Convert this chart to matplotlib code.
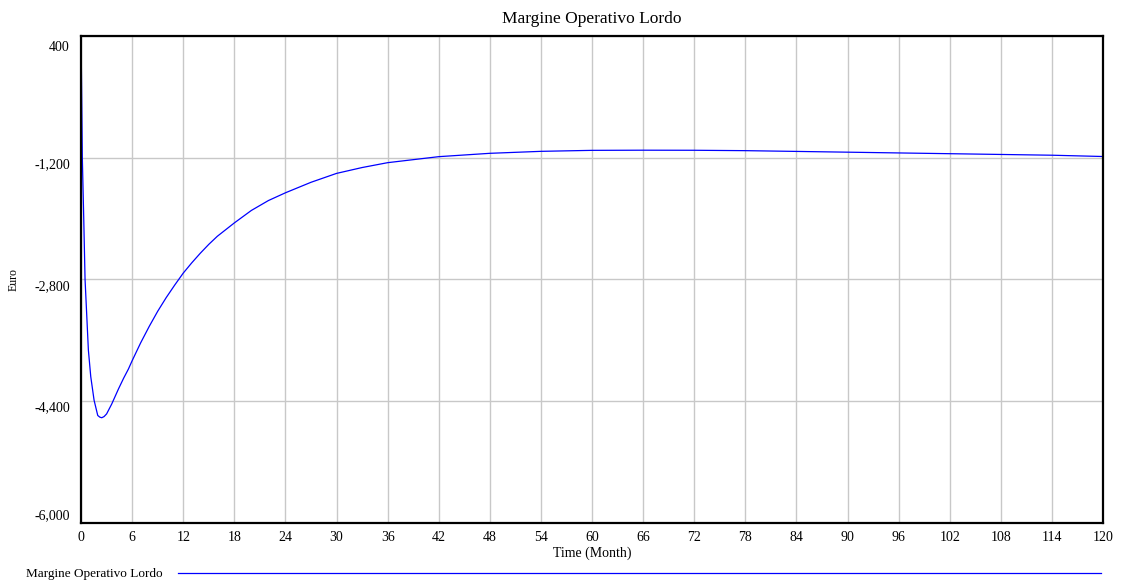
import matplotlib
matplotlib.use("Agg")
import matplotlib.pyplot as plt
import matplotlib.transforms as mtransforms

plt.rcParams['font.family'] = ['Liberation Serif', 'DejaVu Serif']

# data
months = [0, 0.15, 0.31, 0.47, 0.86, 1.14, 1.53, 1.96, 2.2, 2.43, 2.7, 3.0, 3.6,
          4.4, 5.0, 5.56, 6, 7, 8, 9, 10, 11, 12, 13, 14, 15, 16, 18, 20, 22,
          24, 27, 30, 33, 36, 42, 48, 54, 60, 66, 72, 78, 84, 90, 96, 102, 108,
          114, 120]
margine = [400, -1200, -1970, -2800, -3730, -4080, -4390, -4590, -4612, -4620,
           -4605, -4570, -4440, -4240, -4100, -3980, -3870, -3635, -3420, -3220,
           -3040, -2875, -2718, -2583, -2457, -2340, -2234, -2058, -1894, -1764,
           -1662, -1524, -1407, -1330, -1266, -1187, -1143, -1117, -1104, -1102,
           -1103, -1108, -1118, -1128, -1138, -1148, -1158, -1168, -1185]
x_ticks = list(range(0, 121, 6))
y_ticks = [-6000, -4400, -2800, -1200, 400]
y_labels = ['-6,000', '-4,400', '-2,800', '-1,200', '400']
series_name = 'Margine Operativo Lordo'

fig = plt.figure(figsize=(11.21, 5.84), dpi=100)
ax = fig.add_axes([0.0723, 0.105, 0.9117, 0.8334])

line, = ax.plot(months, margine, color='#0000ff', linewidth=0.9, label=series_name)

ax.set_xlim(0, 120)
ax.set_ylim(-6000, 400)
ax.set_xticks(x_ticks)
ax.set_yticks(y_ticks)
ax.set_yticklabels(y_labels)
ax.grid(True, color='#c8c8c8', linewidth=1.0)
ax.set_axisbelow(True)
ax.tick_params(length=0, labelsize=10)
ax.tick_params(axis='y', pad=8)
ax.tick_params(axis='x', pad=6)
for s in ax.spines.values():
    s.set_linewidth(1.6)
    s.set_color('black')

# nudge the y labels like the original (extremes pulled inside)
ylabs = ax.get_yticklabels()
for i, lab in enumerate(ylabs):
    dy = -4
    if i == 0:
        dy = 6
    elif i == len(ylabs) - 1:
        dy = -7
    lab.set_transform(lab.get_transform() + mtransforms.ScaledTranslation(0, dy / 72, fig.dpi_scale_trans))

ax.set_title('Margine Operativo Lordo', fontsize=12.5, pad=9)
ax.set_xlabel('Time (Month)', fontsize=10, labelpad=2)
ax.set_ylabel('Euro', fontsize=8.5)
ax.yaxis.set_label_coords(-0.06, 0.5)

fig.legend(handles=[line], loc='center left', bbox_to_anchor=(0.023, 0.017),
           markerfirst=False, handlelength=70, handletextpad=1.15, frameon=False,
           borderaxespad=0, borderpad=0, fontsize=9.5)

fig.savefig('out.png', dpi=100)
